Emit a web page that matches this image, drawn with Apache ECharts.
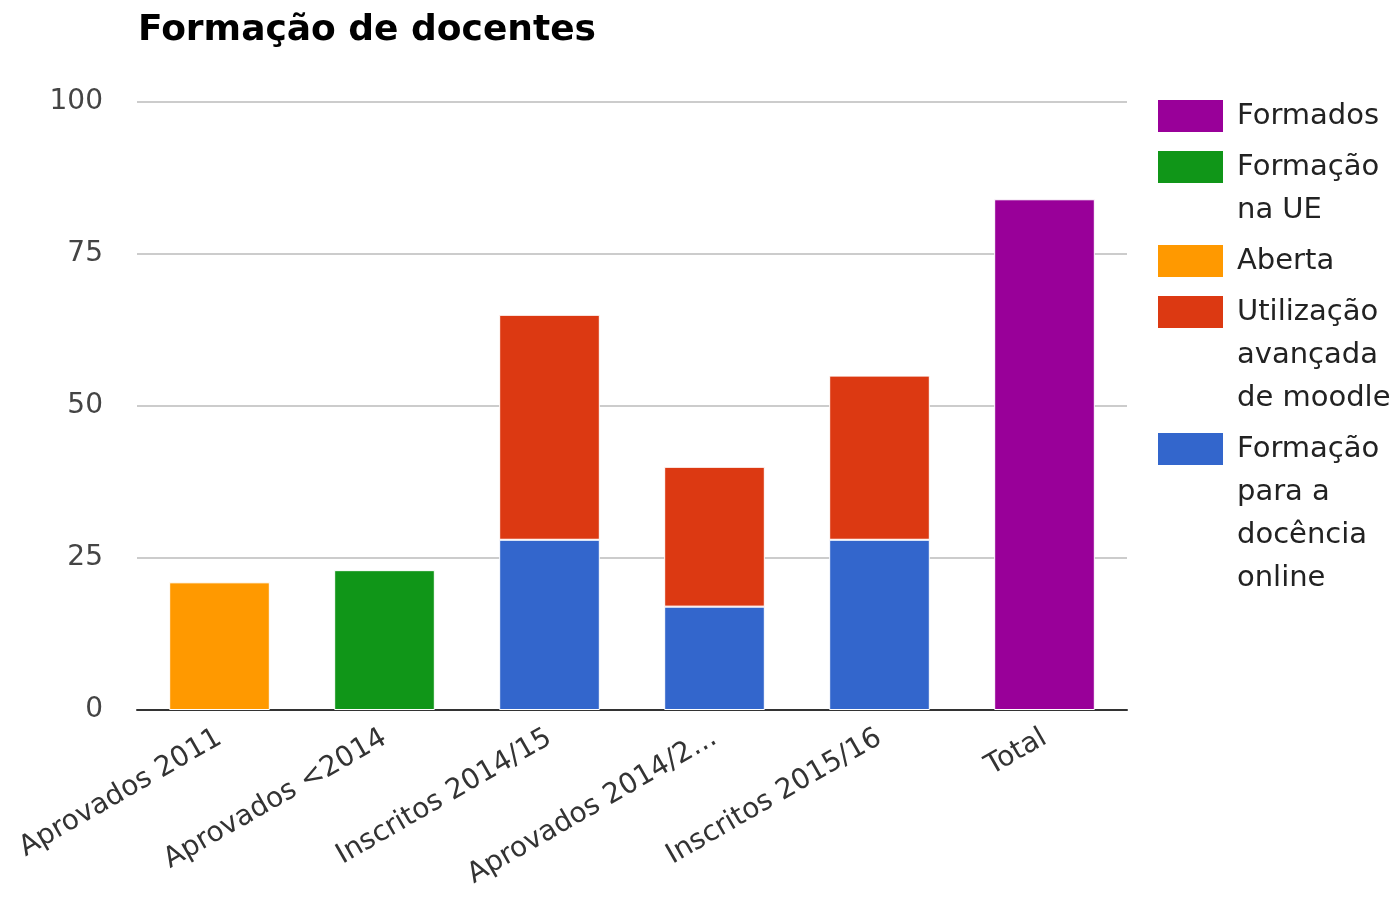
<!DOCTYPE html>
<html>
<head>
<meta charset="utf-8">
<script src="https://cdn.jsdelivr.net/npm/echarts@6/dist/echarts.min.js"></script>
<style>html,body{margin:0;padding:0;background:#fff;}#c{width:1395px;height:901px;}</style>
</head>
<body>
<div id="c"></div>
<script>
const categories = ['Aprovados 2011', 'Aprovados <2014', 'Inscritos 2014/15', 'Aprovados 2014/2...', 'Inscritos 2015/16', 'Total'];
const docenciaOnline = [null, null, 28, 17, 28, null];
const moodleAvancado = [null, null, 37, 23, 27, null];
const aberta = [21, null, null, null, null, null];
const formacaoUE = [null, 23, null, null, null, null];
const formados = [null, null, null, null, null, 84];
const yTicks = [0, 25, 50, 75, 100];
const seriesNames = ['Formação para a docência online', 'Utilização avançada de moodle', 'Aberta', 'Formação na UE', 'Formados'];
const legendOrder = ['Formados', 'Formação na UE', 'Aberta', 'Utilização avançada de moodle', 'Formação para a docência online'];
const legendWrapped = ['Formados', 'Formação\nna UE', 'Aberta', 'Utilização\navançada\nde moodle', 'Formação\npara a\ndocência\nonline'];

const colors = ['#3366CC', '#DC3912', '#FF9900', '#109618', '#990099'];
const seriesData = [docenciaOnline, moodleAvancado, aberta, formacaoUE, formados];
const FONT = 'DejaVu Sans';
const LH = 43;        // legend line height
const ICON_H = 32;
const ITEM_GAP = 8;
const LEGEND_TOP = 100;

// one legend per entry so that the first text line sits beside the swatch
const legends = [];
let iconTop = LEGEND_TOP;
legendOrder.forEach((name, i) => {
  const lines = legendWrapped[i].split('\n');
  const total = 2 * lines.length - 1;
  const offset = ICON_H / 2 - total * LH / 2;
  const blank = new Array(lines.length - 1).fill('{e|}');
  legends.push({
    orient: 'vertical',
    left: 1158,
    top: iconTop + offset,
    padding: 0,
    itemWidth: 65, itemHeight: ICON_H,
    itemGap: 0,
    icon: 'rect',
    data: [name],
    formatter: () => blank.concat(lines.map(l => '{t|' + l + '}')).join('\n'),
    textStyle: {
      fontFamily: FONT, fontSize: 29, lineHeight: LH, color: '#222',
      rich: {
        t: { fontFamily: FONT, fontSize: 29, lineHeight: LH, color: '#222', padding: [0, 0, 0, 9] },
        e: { fontFamily: FONT, fontSize: 29, lineHeight: LH, height: LH }
      }
    },
    itemStyle: { borderWidth: 0 }
  });
  iconTop += lines.length * LH + ITEM_GAP;
});

const chart = echarts.init(document.getElementById('c'));
chart.setOption({
  animation: false,
  backgroundColor: '#fff',
  title: {
    text: 'Formação de docentes',
    left: 133, top: 8,
    textStyle: { fontFamily: FONT, fontWeight: 'bold', fontSize: 36, color: '#000' }
  },
  grid: { left: 137, right: 268, top: 102, bottom: 191 },
  legend: legends,
  xAxis: {
    type: 'category',
    data: categories,
    axisLine: { lineStyle: { color: '#333', width: 2 } },
    axisTick: { show: false },
    axisLabel: { rotate: 30, interval: 0, margin: 26, fontFamily: FONT, fontSize: 28, color: '#333' }
  },
  yAxis: {
    type: 'value',
    min: yTicks[0], max: yTicks[yTicks.length - 1], interval: yTicks[1] - yTicks[0],
    axisLine: { show: false },
    axisTick: { show: false },
    splitLine: { lineStyle: { color: '#cccccc', width: 2 } },
    axisLabel: { margin: 34, fontFamily: FONT, fontSize: 28, color: '#444' }
  },
  series: seriesNames.map((n, i) => ({
    name: n,
    type: 'bar',
    stack: 'total',
    barWidth: '61%',
    data: seriesData[i],
    itemStyle: { color: colors[i], borderColor: '#fff', borderWidth: 1 }
  }))
});
</script>
</body>
</html>
